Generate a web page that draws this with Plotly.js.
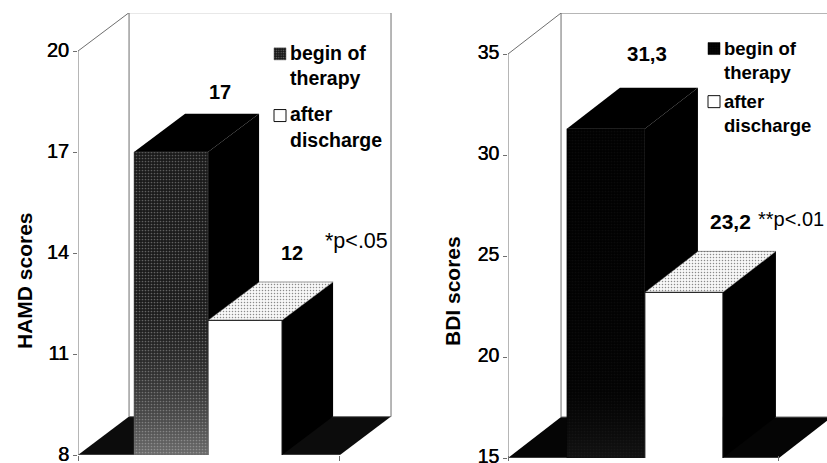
<!DOCTYPE html>
<html><head><meta charset="utf-8">
<script src="https://cdn.plot.ly/plotly-3.0.1.min.js"></script>
<style>html,body{margin:0;padding:0;background:#fff}</style></head>
<body><div id="chart" style="width:827px;height:463px"></div>
<script>
// Data
const seriesNames = ['begin of<br>therapy', 'after<br>discharge'];
const hamdValues = [17, 12];
const hamdLabels = ['17', '12'];
const hamdTicks = [8, 11, 14, 17, 20];
const bdiValues = [31.3, 23.2];
const bdiLabels = ['31,3', '23,2'];
const bdiTicks = [15, 20, 25, 30, 35];

const W = 827, H = 463;
const FONT = '"Liberation Sans", Arial, sans-serif';
const INK = '#000';
const WALL = '#6e6e6e';

function panel(cfg) {
  const o = cfg.ax;
  const t = [];
  const base = cfg.ticks[0], top = cfg.ticks[cfg.ticks.length - 1];
  const xa = 'x' + o, ya = 'y' + o;
  const xb = 'x' + (o + 1), yb = 'y' + (o + 1);
  const poly = (x, y, fill, extra) => Object.assign({
    type: 'scatter', mode: 'lines', x, y, xaxis: xa, yaxis: ya, fill: 'toself', fillcolor: fill,
    line: {width: 0}, hoverinfo: 'skip', showlegend: false
  }, extra || {});
  const line = (x, y) => ({type: 'scatter', mode: 'lines', x, y, xaxis: xa, yaxis: ya,
    line: {color: WALL, width: 1}, hoverinfo: 'skip', showlegend: false});
  const dx = cfg.dx, dy = cfg.dy, e = cfg.floorEnd, b0 = cfg.barStart;
  // floor
  t.push(poly([0, dx, e + dx, e, 0], [base, base + dy, base + dy, base, base], cfg.floorColor));
  // walls
  t.push(line([0, 0, dx, dx, e + dx, e + dx], [base, top, top + dy, base + dy, base + dy, top + dy]));
  t.push(line([dx, e + dx], [top + dy, top + dy]));
  t.push(line([0, e], [base, base]));
  // bar depth faces, back to front
  cfg.values.forEach((v, i) => {
    const l = b0 + i, r = l + 1;
    t.push(poly([r, r + dx, r + dx, r, r], [base, base + dy, v + dy, v, base], '#000'));
    if (i === 0) {
      t.push(poly([l, l + dx, r + dx, r, l], [v, v + dy, v + dy, v, v], '#000'));
    } else {
      t.push(poly([l, l + dx, r + dx, r, l], [v, v + dy, v + dy, v, v], '#fff', {
        fillpattern: {shape: '.', fgcolor: '#8a8a8a', bgcolor: '#f7f7f7', size: 3, solidity: 0.2},
        line: {color: '#333', width: 0.5}
      }));
    }
  });
  // front faces
  cfg.values.forEach((v, i) => {
    t.push({
      type: 'bar', x: [b0 + i + 0.5], y: [v], width: [1], xaxis: xb, yaxis: yb,
      name: seriesNames[i], legend: cfg.legend, legendgroup: cfg.legend + i, showlegend: true, hoverinfo: 'y',
      marker: i === 0
        ? {color: cfg.frontColor, line: {color: cfg.frontEdge, width: 0.5},
           pattern: {shape: '.', fgcolor: cfg.speckle, bgcolor: cfg.frontColor, size: 3, solidity: 0.25}}
        : {color: '#fff', line: {color: '#111', width: 1}}
    });
  });
  // lighter lower part of the first front face
  const l0 = b0, r0 = b0 + 1, v0 = cfg.values[0];
  t.push({type: 'scatter', mode: 'lines', x: [l0, r0, r0, l0, l0], y: [base, base, v0, v0, base],
    xaxis: xb, yaxis: yb, fill: 'toself', line: {width: 0}, hoverinfo: 'skip', showlegend: false,
    fillcolor: 'rgba(0,0,0,0)',
    fillgradient: {type: 'vertical', colorscale: cfg.glow}});
  return t;
}

const left = {
  ax: 1, values: hamdValues, ticks: hamdTicks, legend: 'legend',
  dx: 0.69, dy: 1.14, floorEnd: 3.54, barStart: 0.757, floorColor: '#0c0c0c',
  frontColor: '#181818', frontEdge: '#555', speckle: '#6a6a6a',
  glow: [[0, 'rgba(190,190,190,0.5)'], [0.15, 'rgba(150,150,150,0.35)'], [0.5, 'rgba(50,50,50,0.1)'], [1, 'rgba(30,30,30,0.2)']]
};
const right = {
  ax: 3, values: bdiValues, ticks: bdiTicks, legend: 'legend2',
  dx: 0.68, dy: 2.03, floorEnd: 3.474, barStart: 0.755, floorColor: '#050505',
  frontColor: '#010101', frontEdge: '#000', speckle: '#0a0a0a',
  glow: [[0, 'rgba(110,110,110,0.16)'], [0.2, 'rgba(50,50,50,0.04)'], [1, 'rgba(0,0,0,0)']]
};
const traces = panel(left).concat(panel(right));

const px = v => v / W, py = v => 1 - v / H;
const xAxis = (a, b, range, tv) => ({domain: [px(a), px(b)], range, tickvals: tv, ticktext: tv.map(() => ''),
  ticks: 'outside', ticklen: 5, tickcolor: WALL, showgrid: false, zeroline: false, showline: false, fixedrange: true});
const yAxis = (a, b, range, tv, anchor, size, shift) => ({domain: [py(b), py(a)], range, tickvals: tv, ticks: 'outside', ticklen: 4,
  tickcolor: WALL, showgrid: false, zeroline: false, showline: false, anchor, fixedrange: true,
  ticklabeloverflow: 'allow', ticklabelshift: shift,
  tickfont: {family: FONT, size, color: INK, shadow: '0.5px 0 0 #000'}});
const hidden = (ov, range, anchor) => ({overlaying: ov, range, visible: false, anchor, fixedrange: true});

const lRange = [0, 324 / 74], lY = [8, 21.13];
const rRange = [0, 319 / 78], rY = [15, 37.03];

const note = (text, x, y, size, bold, angle) => ({
  text, xref: 'paper', yref: 'paper', x: px(x), y: py(y), showarrow: false,
  xanchor: 'center', yanchor: 'middle', textangle: angle || 0,
  font: {family: FONT, size, color: INK, weight: bold ? 700 : 400}
});

const legendStyle = (x, y, size, gap) => ({x: px(x), y: py(y), xanchor: 'left', yanchor: 'top', bgcolor: 'rgba(0,0,0,0)',
  borderwidth: 0, itemwidth: 30, tracegroupgap: gap, itemclick: false, itemdoubleclick: false,
  font: {family: FONT, size, color: INK, weight: 700}});

const layout = {
  width: W, height: H, margin: {l: 0, r: 0, t: 0, b: 0}, showlegend: true,
  paper_bgcolor: '#fff', plot_bgcolor: 'rgba(0,0,0,0)', barmode: 'overlay',
  xaxis: xAxis(78, 402, lRange, [0, 3.54]),
  yaxis: yAxis(13, 455, lY, hamdTicks, 'x', 20, -1),
  xaxis2: hidden('x', lRange, 'y2'),
  yaxis2: hidden('y', lY, 'x2'),
  xaxis3: xAxis(508, 827, rRange, [0, 3.474]),
  yaxis3: yAxis(13, 458, rY, bdiTicks, 'x3', 19.5, -2),
  xaxis4: hidden('x3', rRange, 'y4'),
  yaxis4: hidden('y3', rY, 'x4'),
  legend: legendStyle(250, 33, 19.5, 8),
  legend2: legendStyle(684, 29, 18.5, 2),
  annotations: [
    note('HAMD scores', 24, 281, 21, true, -90),
    note('BDI scores', 452, 291, 21, true, -90),
    note(hamdLabels[0], 220, 92, 20, true),
    note(hamdLabels[1], 292, 253, 20, true),
    note('*p&lt;.05', 356, 241, 21.5, false),
    note(bdiLabels[0], 647, 53, 20.5, true),
    note(bdiLabels[1], 730, 222, 21, true),
    note('**p&lt;.01', 791, 219, 20, false)
  ]
};
Plotly.newPlot('chart', traces, layout, {displayModeBar: false, staticPlot: true}).then(() => {
  // the reference keeps each swatch right beside the first line of its label
  document.querySelectorAll('#chart .legendsymbols').forEach(g => g.setAttribute('transform', 'translate(10,-11)'));
});
</script></body></html>
